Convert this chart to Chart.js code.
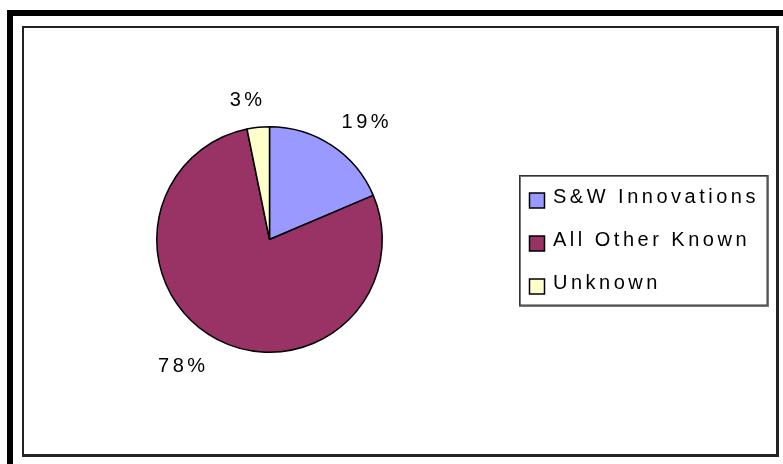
<!DOCTYPE html>
<html>
<head>
<meta charset="utf-8">
<script src="https://cdn.jsdelivr.net/npm/chart.js@4.4.1/dist/chart.umd.min.js"></script>
<style>
    body { margin: 0; background: #fff; }
    .outer {
        position: absolute; left: 7px; top: 10px; width: 790px; height: 470px;
        border-top: 6px solid #000; border-left: 6px solid #000;
    }
    .inner {
        position: absolute; left: 22px; top: 26px; width: 752px; height: 426px;
        border: 2px solid #222; border-right-width: 3px; border-bottom-width: 3px;
        background: #fff;
    }
    canvas { position: absolute; left: 0; top: 0; }
</style>
</head>
<body>
<div class="outer"></div>
<div class="inner"></div>
<canvas id="pie" width="783" height="464"></canvas>
<script>
// Chart data (shares, labels show rounded values)
const categories = ['S&W Innovations', 'All Other Known', 'Unknown'];
const shares = [18.6, 78.2, 3.2];
const sliceColors = ['#9999FF', '#993366', '#FFFFCC'];

const FONT = '20px "Liberation Sans", Arial, sans-serif';
const SPACING = 3.5;

// Draw text with wide letter spacing, left edge at x
function spacedText(ctx, text, x, y) {
    ctx.letterSpacing = SPACING + 'px';
    ctx.fillText(text, x, y);
    ctx.letterSpacing = '0px';
}

function spacedWidth(ctx, text) {
    ctx.letterSpacing = SPACING + 'px';
    const w = ctx.measureText(text).width - SPACING;
    ctx.letterSpacing = '0px';
    return w;
}

function clamp(v) {
    return Math.max(-1, Math.min(1, v));
}

// Percentage labels outside each slice
const percentLabels = {
    id: 'percentLabels',
    afterDatasetsDraw(chart) {
        const ctx = chart.ctx;
        const meta = chart.getDatasetMeta(0);
        const data = chart.data.datasets[0].data;
        const total = data.reduce((a, b) => a + b, 0);
        ctx.save();
        ctx.font = FONT;
        ctx.fillStyle = '#000';
        ctx.textBaseline = 'alphabetic';
        ctx.textAlign = 'left';
        meta.data.forEach((arc, i) => {
            const p = arc.getProps(['x', 'y', 'startAngle', 'endAngle', 'outerRadius'], true);
            const mid = (p.startAngle + p.endAngle) / 2;
            const text = Math.round(data[i] / total * 100) + '%';
            const w = spacedWidth(ctx, text);
            const cos = Math.cos(mid), sin = Math.sin(mid);
            const dist = p.outerRadius + 21.5;
            const cx = p.x + cos * dist + (w / 2) * clamp(5 * cos);
            const cy = p.y + sin * dist + 7 * clamp(5 * sin);
            spacedText(ctx, text, cx - w / 2 - 2, cy + 7);
        });
        ctx.restore();
    }
};

// Boxed legend on the right
const boxLegend = {
    id: 'boxLegend',
    afterDraw(chart) {
        const ctx = chart.ctx;
        const ds = chart.data.datasets[0];
        const left = 519, top = 175, right = 768, bottom = 306;
        ctx.save();
        ctx.fillStyle = '#fff';
        ctx.fillRect(left, top, right - left, bottom - top);
        ctx.strokeStyle = '#777';
        ctx.lineWidth = 2;
        ctx.strokeRect(left + 1, top + 1, right - left - 1, bottom - top - 1);
        ctx.strokeStyle = '#333';
        ctx.lineWidth = 1;
        ctx.strokeRect(left + 0.5, top + 0.5, right - left - 1.5, bottom - top - 1.5);

        ctx.font = FONT;
        ctx.textBaseline = 'alphabetic';
        chart.data.labels.forEach((label, i) => {
            const rowY = 200.5 + i * 43;
            ctx.fillStyle = ds.backgroundColor[i];
            ctx.fillRect(529.5, rowY - 7.5, 15, 15);
            ctx.strokeStyle = '#000';
            ctx.lineWidth = 1.5;
            ctx.strokeRect(529.5, rowY - 7.5, 15, 15);
            ctx.fillStyle = '#000';
            spacedText(ctx, label, 553, rowY + 2.8);
        });
        ctx.restore();
    }
};

document.addEventListener('DOMContentLoaded', function() {
    const ctx = document.getElementById('pie').getContext('2d');
    new Chart(ctx, {
        type: 'pie',
        data: {
            labels: categories,
            datasets: [{
                data: shares,
                backgroundColor: sliceColors,
                borderColor: '#000',
                borderWidth: 1.5
            }]
        },
        options: {
            responsive: false,
            animation: false,
            devicePixelRatio: 1,
            layout: {
                padding: { left: 156, right: 400, top: 126, bottom: 111 }
            },
            plugins: {
                legend: { display: false },
                tooltip: { enabled: false }
            }
        },
        plugins: [percentLabels, boxLegend]
    });
});
</script>
</body>
</html>
